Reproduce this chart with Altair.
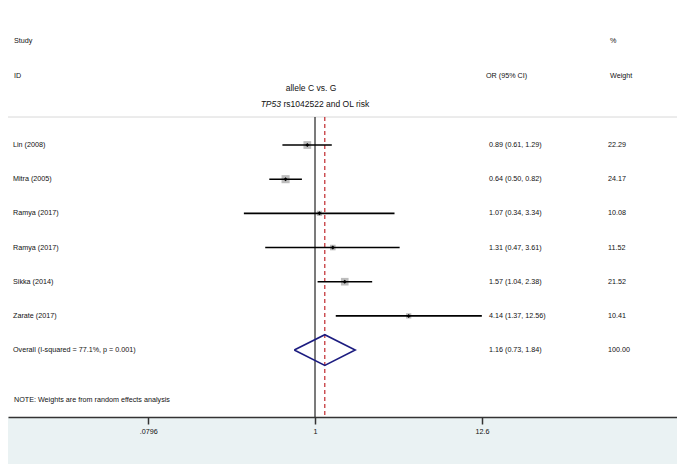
import altair as alt
import pandas as pd

# ---- data ----
studies = ["Lin (2008)", "Mitra (2005)", "Ramya (2017)", "Ramya (2017)", "Sikka (2014)", "Zarate (2017)"]
odds = [0.89, 0.64, 1.07, 1.31, 1.57, 4.14]
ci_low = [0.61, 0.50, 0.34, 0.47, 1.04, 1.37]
ci_high = [1.29, 0.82, 3.34, 3.61, 2.38, 12.56]
weights = [22.29, 24.17, 10.08, 11.52, 21.52, 10.41]

overall_label = "Overall  (I-squared = 77.1%, p = 0.001)"
overall_or = 1.16
overall_low = 0.73
overall_high = 1.84
overall_weight = 100.00

tick_values = [0.0796, 1, 12.6]
tick_labels = [".0796", "1", "12.6"]

title1 = "allele C vs. G"
title2_italic = "TP53"
title2_rest = "rs1042522 and OL risk"
note = "NOTE: Weights are from random effects analysis"

FONT = "Liberation Sans"
FS = 7.2
TXT = "#111111"

# ---- tables ----
n = len(studies)
df = pd.DataFrame({
    "row": list(range(n)),
    "study": studies,
    "or": odds,
    "lo": ci_low,
    "hi": ci_high,
    "w": weights,
})
df["ortxt"] = [f"{o:.2f} ({l:.2f}, {h:.2f})" for o, l, h in zip(odds, ci_low, ci_high)]
df["wtxt"] = [f"{w:.2f}" for w in weights]

ov_row = n
ov = pd.DataFrame({
    "row": [ov_row],
    "study": [overall_label],
    "ortxt": [f"{overall_or:.2f} ({overall_low:.2f}, {overall_high:.2f})"],
    "wtxt": [f"{overall_weight:.2f}"],
})
labels_df = pd.concat([df[["row", "study", "ortxt", "wtxt"]], ov], ignore_index=True)

half = 0.45
diamond = pd.DataFrame({
    "x": [overall_low, overall_or, overall_high, overall_or, overall_low],
    "y": [ov_row, ov_row - half, ov_row, ov_row + half, ov_row],
    "o": [0, 1, 2, 3, 4],
})

W, H = 669, 409
xscale = alt.Scale(type="log", domain=[0.0095, 242.4], nice=False)
yscale = alt.Scale(domain=[-4.009, 7.959], reverse=True, nice=False, zero=False)

label_expr = " : ".join(
    [f"abs(datum.value - {v}) < 1e-6 ? '{t}'" for v, t in zip(tick_values, tick_labels)]
) + " : ''"

x_axis = alt.Axis(values=tick_values, labelExpr=label_expr, grid=False, title=None,
                  domainColor="#333333", domainWidth=1.5, tickColor="#333333",
                  tickWidth=1.5, tickSize=7, labelFontSize=FS, labelFont=FONT,
                  labelColor=TXT, labelPadding=3)

base = alt.Chart(df)

squares = base.mark_square(color="#bdbdbd", opacity=1).encode(
    x=alt.X("or:Q", scale=xscale, axis=x_axis),
    y=alt.Y("row:Q", scale=yscale, axis=None),
    size=alt.Size("w:Q", scale=alt.Scale(domain=[0, 100], range=[0, 270]), legend=None),
)
ci = base.mark_rule(color="black", strokeWidth=1.6).encode(
    x=alt.X("lo:Q", scale=xscale), x2="hi:Q",
    y=alt.Y("row:Q", scale=yscale),
)
dots = base.mark_point(shape="diamond", filled=True, color="black", size=16, opacity=1).encode(
    x=alt.X("or:Q", scale=xscale),
    y=alt.Y("row:Q", scale=yscale),
)

null_line = alt.Chart(pd.DataFrame({"v": [1]})).mark_rule(color="#222222", strokeWidth=1.2).encode(
    x=alt.X("v:Q", scale=xscale), y=alt.value(109), y2=alt.value(H)
)
ov_line = alt.Chart(pd.DataFrame({"v": [overall_or]})).mark_rule(
    color="#c0282d", strokeWidth=1.2, strokeDash=[4, 3]
).encode(x=alt.X("v:Q", scale=xscale), y=alt.value(109), y2=alt.value(H))

sep = alt.Chart(pd.DataFrame({"a": [0]})).mark_rule(color="#d8d8d8", strokeWidth=1).encode(
    x=alt.value(0), x2=alt.value(W), y=alt.value(109)
)

dia = alt.Chart(diamond).mark_line(color="#1c1c80", strokeWidth=1.6).encode(
    x=alt.X("x:Q", scale=xscale),
    y=alt.Y("y:Q", scale=yscale),
    order="o:Q",
)

lab = alt.Chart(labels_df)
txt_kw = dict(font=FONT, fontSize=FS, color=TXT, baseline="middle", align="left")
study_txt = lab.mark_text(**txt_kw).encode(
    x=alt.value(5), y=alt.Y("row:Q", scale=yscale), text="study:N")
or_txt = lab.mark_text(**txt_kw).encode(
    x=alt.value(481), y=alt.Y("row:Q", scale=yscale), text="ortxt:N")
w_txt = lab.mark_text(**txt_kw).encode(
    x=alt.value(600), y=alt.Y("row:Q", scale=yscale), text="wtxt:N")

def fixed_text(s, x, y, align="left", size=FS, style="normal"):
    return alt.Chart(pd.DataFrame({"t": [s]})).mark_text(
        font=FONT, fontSize=size, color=TXT, baseline="middle",
        align=align, fontStyle=style
    ).encode(x=alt.value(x), y=alt.value(y), text="t:N")

headers = [
    fixed_text("Study", 6, 33),
    fixed_text("ID", 6, 68),
    fixed_text("%", 602, 33),
    fixed_text("OR (95% CI)", 478, 68),
    fixed_text("Weight", 602, 68),
    fixed_text(title1, 303, 80, align="center", size=8.5),
    fixed_text(title2_italic, 273, 96, align="right", size=8.5, style="italic"),
    fixed_text(title2_rest, 275.5, 96, align="left", size=8.5),
    fixed_text(note, 6, 392),
]

chart = alt.layer(
    sep, squares, null_line, ov_line, ci, dots, dia,
    study_txt, or_txt, w_txt, *headers
).properties(
    width=W, height=H,
    autosize=alt.AutoSizeParams(type="none"),
    padding={"left": 0, "top": 0, "right": 0, "bottom": 47},
    background="#eaf2f3",
).configure_view(fill="white", stroke=None)

chart.save("out.html", embed_options={"renderer": "svg", "actions": False})
